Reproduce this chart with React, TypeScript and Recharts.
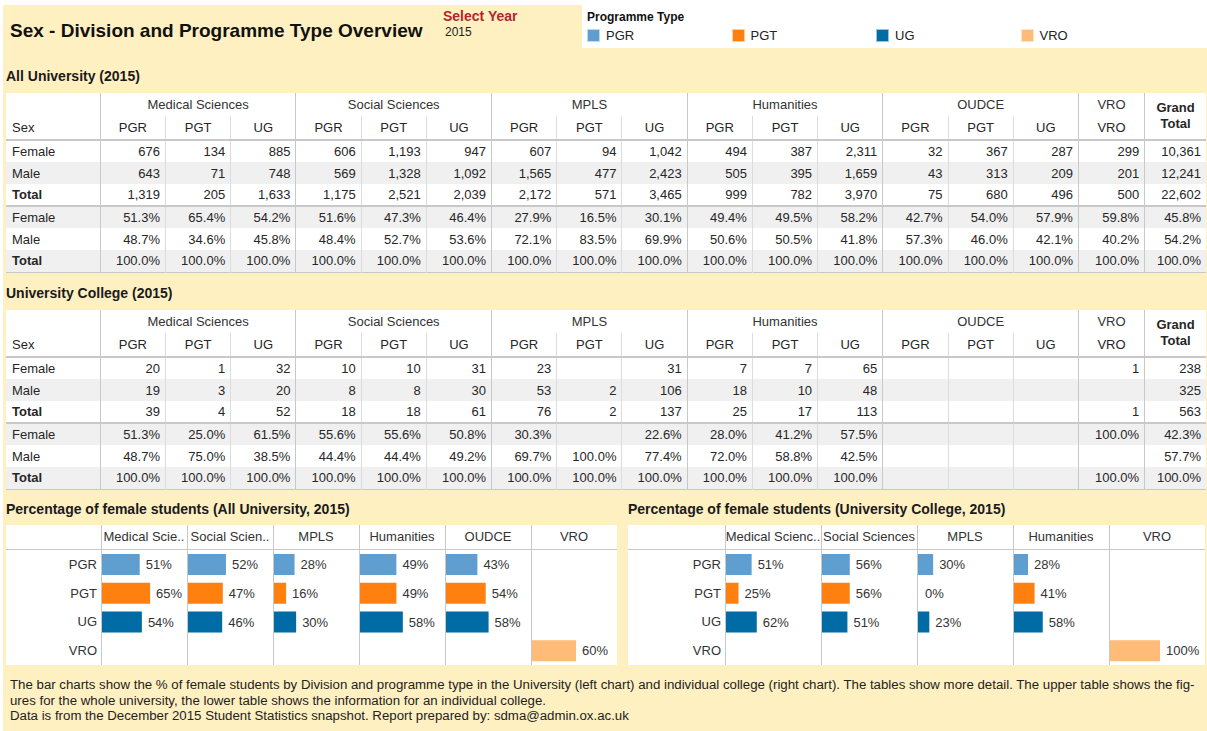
import React from "react";
import { BarChart, Bar, XAxis, YAxis, Cell, LabelList } from "recharts";

const FONT = '"Liberation Sans", Arial, sans-serif';
const BG = "#fff0c2";
const LINE = "#c8c8c8";
const LINE_LIGHT = "#dcdcdc";
const TEXT = "#262626";

const DIVISIONS = ["Medical Sciences", "Social Sciences", "MPLS", "Humanities", "OUDCE", "VRO"];
const DIVISION_TYPES = [
  ["PGR", "PGT", "UG"],
  ["PGR", "PGT", "UG"],
  ["PGR", "PGT", "UG"],
  ["PGR", "PGT", "UG"],
  ["PGR", "PGT", "UG"],
  ["VRO"],
];
const PROGRAMME_TYPES = ["PGR", "PGT", "UG", "VRO"];
const TYPE_COLORS: Record<string, string> = {
  PGR: "#5f9ed1",
  PGT: "#ff800e",
  UG: "#006ba4",
  VRO: "#ffbc79",
};

// 16 division/type columns, then Grand Total
const UNI_FEMALE = [676, 134, 885, 606, 1193, 947, 607, 94, 1042, 494, 387, 2311, 32, 367, 287, 299, 10361];
const UNI_MALE = [643, 71, 748, 569, 1328, 1092, 1565, 477, 2423, 505, 395, 1659, 43, 313, 209, 201, 12241];
const UNI_TOTAL = [1319, 205, 1633, 1175, 2521, 2039, 2172, 571, 3465, 999, 782, 3970, 75, 680, 496, 500, 22602];
const UNI_FEMALE_PCT = [51.3, 65.4, 54.2, 51.6, 47.3, 46.4, 27.9, 16.5, 30.1, 49.4, 49.5, 58.2, 42.7, 54.0, 57.9, 59.8, 45.8];
const UNI_MALE_PCT = [48.7, 34.6, 45.8, 48.4, 52.7, 53.6, 72.1, 83.5, 69.9, 50.6, 50.5, 41.8, 57.3, 46.0, 42.1, 40.2, 54.2];
const UNI_TOTAL_PCT = [100, 100, 100, 100, 100, 100, 100, 100, 100, 100, 100, 100, 100, 100, 100, 100, 100];

const UC_FEMALE = [20, 1, 32, 10, 10, 31, 23, null, 31, 7, 7, 65, null, null, null, 1, 238];
const UC_MALE = [19, 3, 20, 8, 8, 30, 53, 2, 106, 18, 10, 48, null, null, null, null, 325];
const UC_TOTAL = [39, 4, 52, 18, 18, 61, 76, 2, 137, 25, 17, 113, null, null, null, 1, 563];
const UC_FEMALE_PCT = [51.3, 25.0, 61.5, 55.6, 55.6, 50.8, 30.3, null, 22.6, 28.0, 41.2, 57.5, null, null, null, 100, 42.3];
const UC_MALE_PCT = [48.7, 75.0, 38.5, 44.4, 44.4, 49.2, 69.7, 100, 77.4, 72.0, 58.8, 42.5, null, null, null, null, 57.7];
const UC_TOTAL_PCT = [100, 100, 100, 100, 100, 100, 100, 100, 100, 100, 100, 100, null, null, null, 100, 100];

const UNI_CHART_DIVISIONS = ["Medical Sciences", "Social Sciences", "MPLS", "Humanities", "OUDCE", "VRO"];
const UNI_CHART_HEADERS = ["Medical Scie..", "Social Scien..", "MPLS", "Humanities", "OUDCE", "VRO"];
const UC_CHART_DIVISIONS = ["Medical Sciences", "Social Sciences", "MPLS", "Humanities", "VRO"];
const UC_CHART_HEADERS = ["Medical Scienc..", "Social Sciences", "MPLS", "Humanities", "VRO"];

const FOOTER_LINES = [
  "The bar charts show the % of female students by Division and programme type in the University (left chart) and individual college (right chart). The tables show more detail. The upper table shows the fig-",
  "ures for the whole university, the lower table shows the information for an individual college.",
  "Data is from the December 2015 Student Statistics snapshot. Report prepared by: sdma@admin.ox.ac.uk",
];

const COLUMNS = DIVISIONS.flatMap((d, i) => DIVISION_TYPES[i].map((t) => ({ division: d, type: t })));
const COL_WIDTHS = [...COLUMNS.map((c) => (c.type === "VRO" ? 66 : 65)), 61];
const LABEL_COL = 94;

type Cellv = number | null;

function fmtCount(v: Cellv) {
  return v == null ? "" : v.toLocaleString("en-US");
}
function fmtPct(v: Cellv) {
  return v == null ? "" : `${v.toFixed(1)}%`;
}

function CrossTable({ top, rows }: { top: number; rows: { label: string; values: Cellv[]; pct: boolean; bold?: boolean }[] }) {
  const firstOfDivision = (i: number) => i === 0 || COLUMNS[i - 1]?.division !== COLUMNS[i]?.division;
  const cellBorder = (i: number) =>
    i >= COLUMNS.length || firstOfDivision(i) ? `1px solid ${LINE}` : `1px solid ${LINE_LIGHT}`;
  return (
    <table
      style={{
        position: "absolute",
        left: 6,
        top,
        width: 1200,
        tableLayout: "fixed",
        borderCollapse: "collapse",
        background: "#fff",
        fontFamily: FONT,
        fontSize: 13,
        color: TEXT,
      }}
    >
      <colgroup>
        <col style={{ width: LABEL_COL }} />
        {COL_WIDTHS.map((w, i) => (
          <col key={i} style={{ width: w }} />
        ))}
      </colgroup>
      <tbody>
        <tr style={{ height: 23 }}>
          <td />
          {DIVISIONS.map((d, i) => (
            <td
              key={d}
              colSpan={DIVISION_TYPES[i].length}
              style={{ textAlign: "center", borderLeft: `1px solid ${LINE}`, padding: 0, color: "#333" }}
            >
              {d}
            </td>
          ))}
          <td
            rowSpan={2}
            style={{
              textAlign: "center",
              fontWeight: "bold",
              borderLeft: `1px solid ${LINE}`,
              borderBottom: `2px solid ${LINE}`,
              lineHeight: "16px",
              padding: 0,
            }}
          >
            Grand
            <br />
            Total
          </td>
        </tr>
        <tr style={{ height: 24 }}>
          <td style={{ paddingLeft: 6, borderBottom: `2px solid ${LINE}` }}>Sex</td>
          {COLUMNS.map((c, i) => (
            <td
              key={i}
              style={{ textAlign: "center", borderLeft: cellBorder(i), borderBottom: `2px solid ${LINE}`, padding: 0 }}
            >
              {c.type}
            </td>
          ))}
        </tr>
        {rows.map((r, ri) => (
          <tr
            key={ri}
            style={{
              height: 22,
              background: ri % 2 === 1 ? "#f0f0f0" : "#fff",
              borderBottom: ri === 2 ? `2px solid ${LINE}` : ri === 5 ? `1px solid ${LINE}` : undefined,
            }}
          >
            <td style={{ paddingLeft: 6, fontWeight: r.bold ? "bold" : "normal" }}>{r.label}</td>
            {r.values.map((v, i) => (
              <td key={i} style={{ textAlign: "right", paddingRight: 5, borderLeft: cellBorder(i) }}>
                {r.pct ? fmtPct(v) : fmtCount(v)}
              </td>
            ))}
          </tr>
        ))}
      </tbody>
    </table>
  );
}

function femaleShare(division: string, type: string, female: Cellv[], total: Cellv[]): number | null {
  const i = COLUMNS.findIndex((c) => c.division === division && c.type === type);
  if (i < 0) return null;
  const tot = total[i];
  if (tot == null || tot === 0) return null;
  return ((female[i] ?? 0) / tot) * 100;
}

function FemaleShareChart({
  left,
  labelWidth,
  panelWidth,
  divisions,
  headers,
  female,
  total,
  maxPct,
}: {
  left: number;
  labelWidth: number;
  panelWidth: number;
  divisions: string[];
  headers: string[];
  female: Cellv[];
  total: Cellv[];
  maxPct: number;
}) {
  const headerH = 24;
  const bodyH = 116;
  const width = labelWidth + divisions.length * panelWidth;
  return (
    <div
      style={{
        position: "absolute",
        left,
        top: 525,
        width,
        height: headerH + bodyH,
        background: "#fff",
        fontFamily: FONT,
      }}
    >
      <div
        style={{ position: "absolute", left: 0, top: headerH, width, height: 0, borderTop: `1px solid ${LINE}` }}
      />
      {headers.map((h, i) => (
        <div
          key={h}
          style={{
            position: "absolute",
            left: labelWidth + i * panelWidth,
            top: 0,
            width: panelWidth,
            height: headerH,
            lineHeight: `${headerH}px`,
            textAlign: "center",
            fontSize: 13,
            color: "#333",
            whiteSpace: "nowrap",
            overflow: "hidden",
          }}
        >
          {h}
        </div>
      ))}
      {divisions.map((d, i) => {
        const data = PROGRAMME_TYPES.map((t) => ({ type: t, pct: femaleShare(d, t, female, total) }));
        const first = i === 0;
        const x0 = labelWidth + i * panelWidth + 1;
        return (
          <div key={d} style={{ position: "absolute", left: first ? 0 : x0, top: headerH + 1 }}>
            <BarChart
              width={first ? labelWidth + panelWidth : panelWidth - 1}
              height={bodyH - 1}
              data={data}
              layout="vertical"
              margin={{ top: 0, right: 0, bottom: 0, left: 0 }}
            >
              <XAxis type="number" hide domain={[0, maxPct]} />
              <YAxis
                type="category"
                dataKey="type"
                hide={!first}
                width={first ? labelWidth + 1 : 0}
                axisLine={false}
                tickLine={false}
                tickSize={0}
                tickMargin={5}
                tick={{ fontSize: 13, fill: "#333", fontFamily: FONT }}
              />
              <Bar dataKey="pct" barSize={21} minPointSize={1} isAnimationActive={false}>
                {data.map((p) => (
                  <Cell key={p.type} fill={p.pct ? TYPE_COLORS[p.type] : "transparent"} />
                ))}
                <LabelList
                  dataKey="pct"
                  position="right"
                  offset={6}
                  fill="#333"
                  fontSize={13}
                  fontFamily={FONT}
                  formatter={(v: any) => (v == null ? "" : `${Math.round(Number(v))}%`)}
                />
              </Bar>
            </BarChart>
          </div>
        );
      })}
      {divisions.map((d, i) => (
        <div
          key={"v" + d}
          style={{
            position: "absolute",
            left: labelWidth + i * panelWidth,
            top: 0,
            width: 0,
            height: headerH + bodyH,
            borderLeft: `1px solid ${LINE}`,
          }}
        />
      ))}
    </div>
  );
}

export default function App() {
  const uniRows = [
    { label: "Female", values: UNI_FEMALE, pct: false },
    { label: "Male", values: UNI_MALE, pct: false },
    { label: "Total", values: UNI_TOTAL, pct: false, bold: true },
    { label: "Female", values: UNI_FEMALE_PCT, pct: true },
    { label: "Male", values: UNI_MALE_PCT, pct: true },
    { label: "Total", values: UNI_TOTAL_PCT, pct: true, bold: true },
  ];
  const ucRows = [
    { label: "Female", values: UC_FEMALE, pct: false },
    { label: "Male", values: UC_MALE, pct: false },
    { label: "Total", values: UC_TOTAL, pct: false, bold: true },
    { label: "Female", values: UC_FEMALE_PCT, pct: true },
    { label: "Male", values: UC_MALE_PCT, pct: true },
    { label: "Total", values: UC_TOTAL_PCT, pct: true, bold: true },
  ];
  const sectionTitle: React.CSSProperties = {
    position: "absolute",
    fontWeight: "bold",
    fontSize: 14,
    color: "#1a1a1a",
    whiteSpace: "nowrap",
  };
  return (
    <div
      style={{
        position: "absolute",
        left: 0,
        top: 0,
        width: 1207,
        height: 731,
        background: "#fff",
        fontFamily: FONT,
        overflow: "hidden",
      }}
    >
      <div style={{ position: "absolute", left: 3, top: 5, width: 1204, height: 726, background: BG }} />
      <div
        style={{
          position: "absolute",
          left: 10,
          top: 20,
          fontSize: 19,
          fontWeight: "bold",
          color: "#111",
          whiteSpace: "nowrap",
        }}
      >
        Sex - Division and Programme Type Overview
      </div>
      <div style={{ position: "absolute", left: 443, top: 8, fontSize: 14, fontWeight: "bold", color: "#b3262d" }}>
        Select Year
      </div>
      <div style={{ position: "absolute", left: 445, top: 25, fontSize: 12, color: "#222" }}>2015</div>

      <div style={{ position: "absolute", left: 582, top: 5, width: 625, height: 43, background: "#fff" }}>
        <div style={{ position: "absolute", left: 5, top: 5, fontSize: 12, fontWeight: "bold", color: "#111" }}>
          Programme Type
        </div>
        {PROGRAMME_TYPES.map((t, i) => (
          <div key={t} style={{ position: "absolute", left: 5 + i * 144.5, top: 23 }}>
            <div
              style={{
                position: "absolute",
                left: 0,
                top: 1,
                width: 13,
                height: 13,
                background: TYPE_COLORS[t],
                boxSizing: "border-box",
                border: "1px solid rgba(255,255,255,0.6)",
              }}
            />
            <div style={{ position: "absolute", left: 19, top: 0, fontSize: 13, color: "#222" }}>{t}</div>
          </div>
        ))}
      </div>

      <div style={{ ...sectionTitle, left: 6, top: 68 }}>All University (2015)</div>
      <CrossTable top={93} rows={uniRows} />

      <div style={{ ...sectionTitle, left: 6, top: 285 }}>University College (2015)</div>
      <CrossTable top={310} rows={ucRows} />

      <div style={{ ...sectionTitle, left: 6, top: 501 }}>Percentage of female students (All University, 2015)</div>
      <div style={{ ...sectionTitle, left: 628, top: 501 }}>
        Percentage of female students (University College, 2015)
      </div>

      <FemaleShareChart
        left={6}
        labelWidth={95}
        panelWidth={86}
        divisions={UNI_CHART_DIVISIONS}
        headers={UNI_CHART_HEADERS}
        female={UNI_FEMALE}
        total={UNI_TOTAL}
        maxPct={115.5}
      />
      <FemaleShareChart
        left={628}
        labelWidth={97}
        panelWidth={96}
        divisions={UC_CHART_DIVISIONS}
        headers={UC_CHART_HEADERS}
        female={UC_FEMALE}
        total={UC_TOTAL}
        maxPct={190}
      />

      <div
        style={{ position: "absolute", left: 10, top: 677, fontSize: 13.25, lineHeight: "15.5px", color: "#222" }}
      >
        {FOOTER_LINES.map((l, i) => (
          <div key={i} style={{ whiteSpace: "nowrap" }}>
            {l}
          </div>
        ))}
      </div>
    </div>
  );
}
